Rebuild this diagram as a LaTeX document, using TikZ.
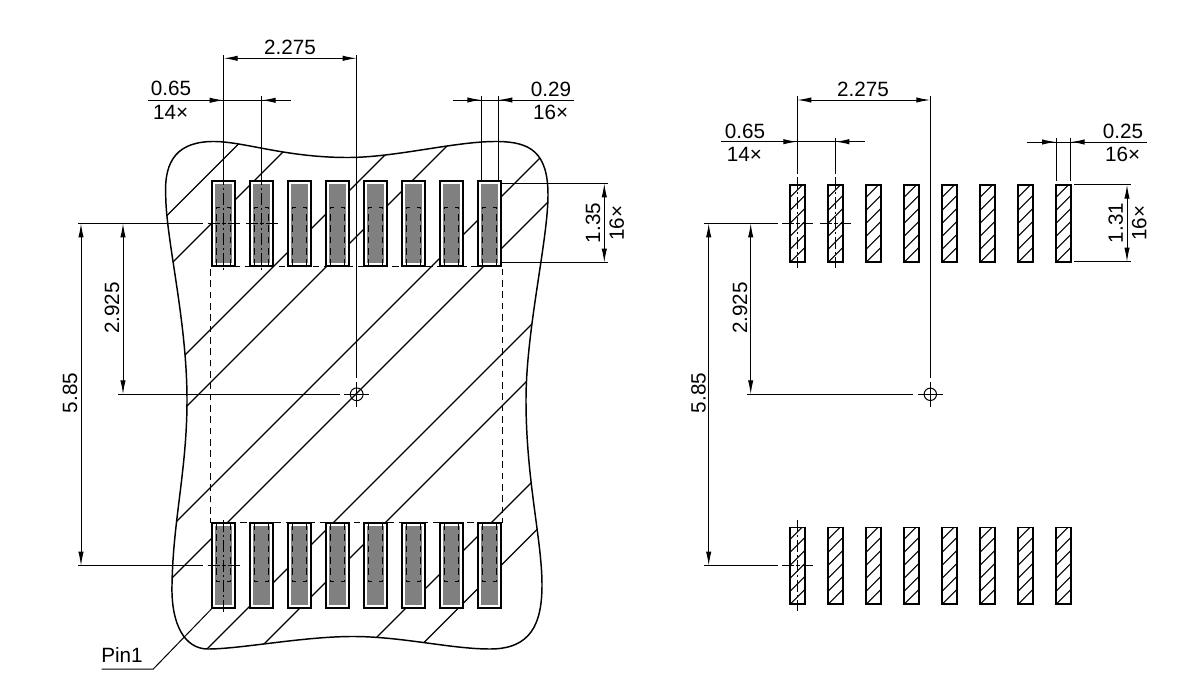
\documentclass[tikz,border=0pt]{standalone}
\usepackage{fontspec}
\setmainfont{Liberation Sans}
\usetikzlibrary{arrows.meta}
\tikzset{
  x=0.75pt,y=-0.75pt,
  thin line/.style={line width=0.75pt,black},
  outline/.style={line width=1.1pt,black},
  hatchline/.style={line width=0.95pt,black},
  dim/.style={thin line,{Latex[length=10.5pt,width=4pt]}-{Latex[length=10.5pt,width=4pt]}},
  arrowin/.style={thin line,-{Latex[length=10.5pt,width=4pt]}},
  centre/.style={line width=0.75pt,black,dash pattern=on 9pt off 2pt on 2pt off 2pt},
  hidden/.style={line width=0.75pt,black,dash pattern=on 5pt off 3.5pt},
  label/.style={inner sep=0pt,font=\fontsize{15.5pt}{17pt}\selectfont},
  vlabel/.style={label,rotate=90},
  padL/.style={draw=black,line width=1.4pt,fill=white,minimum width=17pt,minimum height=63.5pt,inner sep=0pt},
  padR/.style={draw=black,line width=1.3pt,minimum width=11.5pt,minimum height=57.6pt,inner sep=0pt},
}
\begin{document}
\begin{tikzpicture}
\useasboundingbox (0,0) rectangle (1200,675);
\fill[white] (0,0) rectangle (1200,675);

% ---------- left view: land-pattern outline
\def\blob{(165.7,195) .. controls (164,160) and (178,141) .. (215,141.5)
 .. controls (245,142) and (285,157) .. (345,157.5) .. controls (395,158) and (455,141) .. (498,141.5)
 .. controls (530,142) and (548,152) .. (548,195) .. controls (548,240) and (526,330) .. (526,400)
 .. controls (526,480) and (542,540) .. (542,585) .. controls (542,625) and (530,649) .. (490,649)
 .. controls (450,649) and (400,636) .. (350,636.5) .. controls (300,637) and (240,649) .. (208,649)
 .. controls (185,649) and (171,625) .. (172,585) .. controls (173,520) and (187,470) .. (187,400)
 .. controls (187,320) and (166,240) .. (165.7,195) -- cycle}
\begin{scope}
  \clip \blob;
  \foreach \s in {382.5,435,540,593,698,750,856,908,1014,1066.5}
    \draw[hatchline] ({\s-100},100) -- (100,{\s-100});
\end{scope}
\draw[outline] \blob;

% ---------- left view: pads
\foreach \i/\x in {1/223.7,2/261.7,3/299.7,4/337.7,5/375.7,6/413.7,7/451.7,8/489.7}{
  \node[padL] (T\i) at (\x,223.5) {};
  \node[padL] (B\i) at (\x,565.7) {};
  \fill[black!50] ({\x-8.7},184) rectangle ({\x+8.7},263);
  \fill[black!50] ({\x-8.7},526.2) rectangle ({\x+8.7},605.2);
  \draw[hidden] ({\x-7},266) -- ({\x-7},207) -- ({\x-3.5},207);
  \draw[hidden] ({\x+7},266) -- ({\x+7},207) -- ({\x+3.5},207);
  \draw[hidden] ({\x-7},523) -- ({\x-7},581.5) -- ({\x-3.5},581.5);
  \draw[hidden] ({\x+7},523) -- ({\x+7},581.5) -- ({\x+3.5},581.5);
}
\draw[hidden] (210.5,266.3) -- (502.8,266.3) -- (502.8,522.7) -- (210.5,522.7) -- cycle;

% ---------- left view: centre lines
\coordinate (LO) at (356.7,394.3);
\draw[centre] (223.7,173) -- (223.7,272);
\draw[centre] (261.7,173) -- (261.7,272);
\draw[centre] (223.7,520) -- (223.7,612);
\foreach \x in {223.7,261.7}{
  \draw[thin line] ({\x-16},223.4) -- ({\x-4},223.4) ({\x-2},223.4) -- ({\x+2},223.4) ({\x+4},223.4) -- ({\x+16},223.4);}
\draw[thin line] (207.7,565.7) -- (219.7,565.7) (221.7,565.7) -- (225.7,565.7) (227.7,565.7) -- (239.7,565.7);
\draw[thin line] (LO) circle[radius=6.4];
\draw[thin line] (344,394.3) -- (369.4,394.3) (356.7,381.6) -- (356.7,406.8);

% ---------- left view: dimensions
\coordinate (a1) at (223.7,55);
\coordinate (a2) at (356.7,55);
\draw[thin line] (a1) -- (223.7,173);
\draw[thin line] (a2) -- (356.7,378);
\draw[thin line] (261.7,96) -- (261.7,173);
\draw[dim] (223.7,58.3) -- (356.7,58.3);
\node[label] (l2275) at (290,47) {2.275};
\draw[thin line] (147.7,100.3) -- (291.3,100.3);
\draw[arrowin] (209,100.3) -- (223.7,100.3);
\draw[arrowin] (276,100.3) -- (261.7,100.3);
\node[label] (l065) at (171,88.5) {0.65};
\node[label] (l14) at (170.7,112.7) {14×};
\draw[thin line] (481.3,96) -- (481.3,181) (498.3,96) -- (498.3,181);
\draw[thin line] (452.7,100) -- (574,100);
\draw[arrowin] (467,100) -- (481.3,100);
\draw[arrowin] (512.5,100) -- (498.3,100);
\node[label] (l029) at (551,89) {0.29};
\node[label] (l16a) at (550.7,112) {16×};
\draw[thin line] (501.7,183.3) -- (608.3,183.3) (501.7,262.7) -- (608.3,262.7);
\draw[dim] (604.3,183.3) -- (604.3,262.7);
\node[vlabel] (l135) at (593,223) {1.35};
\node[vlabel] (l16b) at (616.7,223) {16×};
\draw[thin line] (78,223.4) -- (203,223.4);
\draw[thin line] (78,565.7) -- (203,565.7);
\draw[thin line] (118,394.3) -- (340,394.3);
\draw[dim] (81,223.4) -- (81,565.7);
\draw[dim] (123,223.4) -- (123,394.3);
\node[vlabel] (l585) at (70,393) {5.85};
\node[vlabel] (l2925) at (112,308) {2.925};

% ---------- Pin1 leader
\coordinate (pinend) at (101.7,669);
\coordinate (pinknee) at (153.3,669);
\node[label,anchor=base west] (pin) at (101,662) {Pin1};
\draw[thin line] (pinend) -- (pinknee) -- (B1.south west);

% ---------- right view: pads
\foreach \i/\x in {1/797.3,2/835.3,3/873.3,4/911.3,5/949.3,6/987.3,7/1025.3,8/1063.3}{
  \begin{scope}
    \clip ({\x-7.7},184.7) rectangle ({\x+7.7},262);
    \foreach \k in {0,...,7}
      \draw[line width=0.85pt] ({\x-20},{190+\k*13+20}) -- ({\x+20},{190+\k*13-20});
  \end{scope}
  \begin{scope}
    \clip ({\x-7.7},527.2) rectangle ({\x+7.7},604.4);
    \foreach \k in {0,...,7}
      \draw[line width=0.85pt] ({\x-20},{532+\k*13+20}) -- ({\x+20},{532+\k*13-20});
  \end{scope}
  \node[padR] (RT\i) at (\x,223.3) {};
  \node[padR] (RB\i) at (\x,565.8) {};
}

% ---------- right view: centre lines
\coordinate (RO) at (930.3,394.3);
\draw[centre] (797.3,177) -- (797.3,268);
\draw[centre] (835.3,177) -- (835.3,268);
\draw[centre] (797.3,520) -- (797.3,611);
\draw[thin line] (782,223.3) -- (793.5,223.3) (795.5,223.3) -- (799.5,223.3) (801.5,223.3) -- (812.5,223.3);
\draw[thin line] (820,223.3) -- (831.5,223.3) (833.5,223.3) -- (837.5,223.3) (839.5,223.3) -- (850.7,223.3);
\draw[thin line] (782,565.7) -- (793.5,565.7) (795.5,565.7) -- (799.5,565.7) (801.5,565.7) -- (812.5,565.7);
\draw[thin line] (RO) circle[radius=6.2];
\draw[thin line] (917.7,394.3) -- (943,394.3) (930.3,381.6) -- (930.3,407);

% ---------- right view: dimensions
\draw[thin line] (797.3,96) -- (797.3,174);
\draw[thin line] (835.3,137.7) -- (835.3,174);
\draw[thin line] (930.3,96) -- (930.3,378);
\draw[dim] (797.3,100) -- (930.3,100);
\node[label] (r2275) at (863,89) {2.275};
\draw[thin line] (721,141.7) -- (865,141.7);
\draw[arrowin] (783,141.7) -- (797.3,141.7);
\draw[arrowin] (849.5,141.7) -- (835.3,141.7);
\node[label] (r065) at (745,131) {0.65};
\node[label] (r14) at (744.3,154.3) {14×};
\draw[thin line] (1056,137.7) -- (1056,181) (1070.7,137.7) -- (1070.7,181);
\draw[thin line] (1026.7,142) -- (1147,142);
\draw[arrowin] (1041.7,142) -- (1056,142);
\draw[arrowin] (1085,142) -- (1070.7,142);
\node[label] (r025) at (1123,131) {0.25};
\node[label] (r16a) at (1122.7,154.3) {16×};
\draw[thin line] (1074.3,184.7) -- (1131,184.7) (1074.3,261.7) -- (1131,261.7);
\draw[dim] (1127,184.7) -- (1127,261.7);
\node[vlabel] (r131) at (1115.7,223) {1.31};
\node[vlabel] (r16b) at (1139.3,223) {16×};
\draw[thin line] (704.3,223.3) -- (778.3,223.3);
\draw[thin line] (704.3,565.7) -- (778.3,565.7);
\draw[thin line] (747,394.3) -- (913,394.3);
\draw[dim] (708.7,223.3) -- (708.7,565.7);
\draw[dim] (750.7,223.3) -- (750.7,394.3);
\node[vlabel] (r585) at (698.5,393) {5.85};
\node[vlabel] (r2925) at (740,308) {2.925};
\end{tikzpicture}
\end{document}
